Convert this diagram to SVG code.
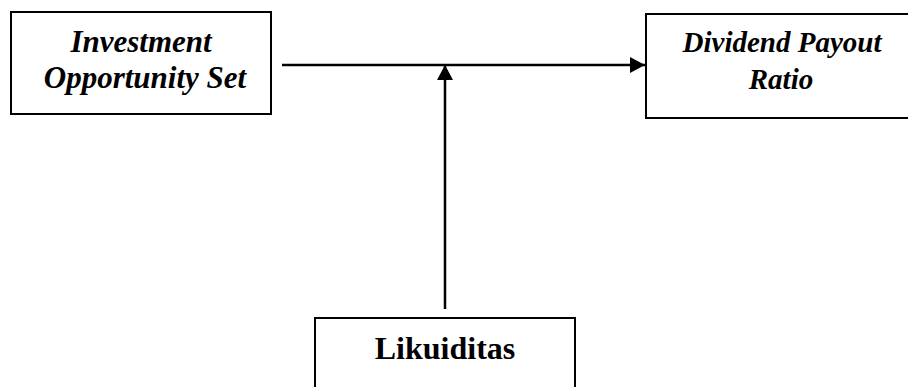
<svg xmlns="http://www.w3.org/2000/svg" width="908" height="387" viewBox="0 0 908 387">
<style>
.box{fill:#fff;stroke:#000;stroke-width:2}
.t{font-family:"Liberation Serif","Times New Roman",serif;font-weight:bold;font-size:31px;fill:#000;text-anchor:middle}
.i{font-style:italic}
.s{font-size:29px}
.c{stroke:#000;stroke-width:2.5;fill:none}
</style>
<defs>
<marker id="ah" markerUnits="userSpaceOnUse" markerWidth="16" markerHeight="16" refX="15" refY="8" orient="auto">
<path d="M0,0 L15,8 L0,16 Z" fill="#000"/>
</marker>
</defs>
<rect width="908" height="387" fill="#fff"/>
<g id="ios">
<rect class="box" x="11" y="12" width="260" height="102"/>
<text class="t i" x="141" y="52">Investment</text>
<text class="t i" x="145" y="88">Opportunity Set</text>
</g>
<g id="dpr">
<rect class="box" x="646" y="14" width="274" height="104"/>
<text class="t i s" x="782" y="52">Dividend Payout</text>
<text class="t i s" x="781" y="89">Ratio</text>
</g>
<g id="likuiditas">
<rect class="box" x="315" y="318" width="260" height="80"/>
<text class="t" x="445" y="359" style="font-size:32px">Likuiditas</text>
</g>
<g id="connectors">
<line class="c" x1="282" y1="65" x2="645" y2="65" marker-end="url(#ah)"/>
<line class="c" x1="445" y1="309" x2="445" y2="65" marker-end="url(#ah)"/>
</g>
</svg>
